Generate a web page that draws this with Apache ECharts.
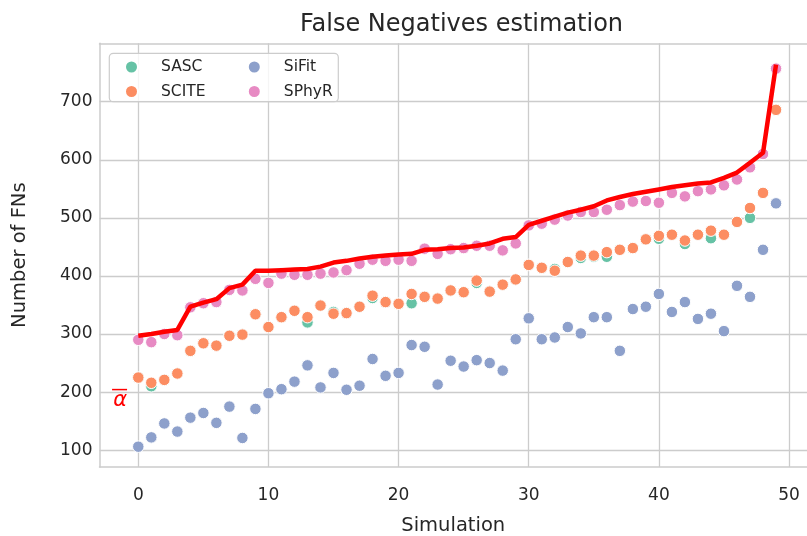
<!DOCTYPE html>
<html><head><meta charset="utf-8">
<script src="https://cdn.jsdelivr.net/npm/echarts@6/dist/echarts.min.js"></script>
<style>html,body{margin:0;padding:0;background:#fff}#c{width:807px;height:536px}</style>
</head><body><div id="c"></div>
<script>
// ---- data ----
const simulations = [0,1,2,3,4,5,6,7,8,9,10,11,12,13,14,15,16,17,18,19,20,21,22,23,24,25,26,27,28,29,30,31,32,33,34,35,36,37,38,39,40,41,42,43,44,45,46,47,48,49];
const sascValues  = [225,210,221,232,271,284,280,297,299,334,312,329,340,320,349,338,336,347,362,355,352,353,364,361,375,372,388,373,385,394,419,414,412,424,431,433,433,445,448,463,464,471,455,471,465,471,493,500,543,686];
const sciteValues = [225,216,221,232,271,284,280,297,299,334,312,329,340,329,349,335,336,347,366,355,352,369,364,361,375,372,392,373,385,394,419,414,409,424,435,435,441,445,448,463,469,471,461,471,478,471,493,517,543,686];
const sifitValues = [106,122,146,132,156,164,147,175,121,171,198,205,218,246,208,233,204,211,257,228,233,281,278,213,254,244,255,250,237,291,327,291,294,312,301,329,329,271,343,347,369,338,355,326,335,305,383,364,445,525];
const sphyrValues = [290,286,300,298,346,353,355,376,375,395,388,404,402,402,404,406,410,421,428,426,428,426,447,438,446,448,452,452,444,456,487,490,497,504,510,510,514,522,528,529,526,543,537,546,549,556,566,587,610,757];
const alphaValues = [297,300,304,307,347,354,360,379,385,409,409,410,411,412,416,423,426,430,433,435,437,438,445,446,448,449,452,456,464,467,488,495,502,509,514,520,530,536,541,545,549,553,556,559,561,569,578,595,612,764];
const xTicks = [0,10,20,30,40,50];
const yTicks = [100,200,300,400,500,600,700];
const seriesNames = ['SASC','SCITE','SiFit','SPhyR'];
const seriesColors = ['#66c2a5','#fc8d62','#8da0cb','#e78ac3'];
const seriesValues = [sascValues, sciteValues, sifitValues, sphyrValues];

const FONT = 'DejaVu Sans';
const TXT = '#262626';
const GRIDC = '#cccccc';
const pairs = vals => simulations.map((s, i) => [s, vals[i]]);

const chart = echarts.init(document.getElementById('c'), null, {renderer: 'canvas'});
const scatterSeries = seriesNames.map((n, k) => ({
  name: n, type: 'scatter', data: pairs(seriesValues[k]),
  symbol: 'circle', symbolSize: 11.5,
  itemStyle: {color: seriesColors[k], borderColor: '#ffffff', borderWidth: 1, opacity: 1},
  z: 2 + k, emphasis: {disabled: true}
}));

const legendText = {fontFamily: FONT, fontSize: 15.5, color: TXT, padding: [0,0,0,18], lineHeight: 14};

chart.setOption({
  animation: false,
  backgroundColor: '#ffffff',
  title: {
    text: 'False Negatives estimation', left: 456.5, top: 8, textAlign: 'center',
    textStyle: {fontFamily: FONT, fontSize: 24, fontWeight: 'normal', color: TXT}
  },
  grid: {left: 99.5, top: 43.3, right: 0, height: 423.7, show: false,
         containLabel: false, outerBoundsMode: 'none'},
  legend: [
    {data: ['SASC','SCITE'], orient: 'vertical', left: 119, top: 54, itemWidth: 13, itemHeight: 13,
     itemGap: 8.5, icon: 'circle', textStyle: legendText, z: 30},
    {data: ['SiFit','SPhyR'], orient: 'vertical', left: 241.8, top: 54, itemWidth: 13, itemHeight: 13,
     itemGap: 8.5, icon: 'circle', textStyle: legendText, z: 30}
  ],
  xAxis: [{
    type: 'value', min: -2.98, max: 51.38, position: 'bottom',
    name: 'Simulation', nameLocation: 'middle', nameGap: 49,
    nameTextStyle: {fontFamily: FONT, fontSize: 19.5, color: TXT},
    axisLine: {show: true, onZero: false, lineStyle: {color: GRIDC, width: 1.5}},
    axisTick: {show: false, customValues: xTicks},
    axisLabel: {customValues: xTicks, fontFamily: FONT, fontSize: 17, color: TXT, margin: 20},
    splitLine: {show: true, lineStyle: {color: GRIDC, width: 1.3}}
  }, {
    type: 'value', min: -2.98, max: 51.38, position: 'top',
    axisLine: {show: true, onZero: false, lineStyle: {color: GRIDC, width: 1.5}},
    axisTick: {show: false}, axisLabel: {show: false}, splitLine: {show: false}
  }],
  yAxis: {
    type: 'value', min: 71, max: 800.6,
    name: 'Number of FNs', nameLocation: 'middle', nameGap: 70, nameRotate: 90,
    nameTextStyle: {fontFamily: FONT, fontSize: 19.5, color: TXT},
    axisLine: {show: true, onZero: false, lineStyle: {color: GRIDC, width: 1.5}},
    axisTick: {show: false, customValues: yTicks},
    axisLabel: {customValues: yTicks, fontFamily: FONT, fontSize: 17, color: TXT, margin: 7},
    splitLine: {show: true, lineStyle: {color: GRIDC, width: 1.3}}
  },
  series: scatterSeries.concat([{
    name: 'alpha', type: 'line', data: pairs(alphaValues), showSymbol: false, symbol: 'none',
    lineStyle: {color: '#ff0000', width: 4.5}, itemStyle: {color: '#ff0000'}, z: 10,
    emphasis: {disabled: true}
  }])
});

// alpha-bar annotation anchored in data coordinates; legend frame
const p = chart.convertToPixel({xAxisIndex: 0, yAxisIndex: 0}, [-1.4, 200]);
chart.setOption({
  graphic: [
    {type: 'rect', shape: {x: 109.3, y: 53.3, width: 229, height: 48.4, r: 4},
     style: {fill: 'rgba(255,255,255,0.8)', stroke: GRIDC, lineWidth: 1.2}, z: 25},
    {type: 'line', shape: {x1: p[0] - 8, y1: p[1] - 2.5, x2: p[0] + 7, y2: p[1] - 2.5},
     style: {stroke: '#ff0000', lineWidth: 1.5}, z: 20},
    {type: 'text', x: p[0], y: p[1] + 8, z: 20,
     style: {text: 'α', fill: '#ff0000', font: 'italic 21px "DejaVu Sans"', align: 'center', verticalAlign: 'middle'}}
  ]
});
</script>
</body></html>
